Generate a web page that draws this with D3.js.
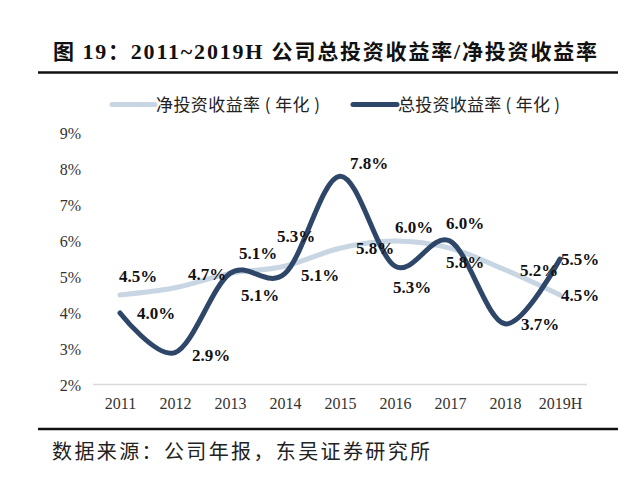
<!DOCTYPE html>
<html><head><meta charset="utf-8">
<script src="https://cdn.jsdelivr.net/npm/d3@7"></script>
<style>html,body{margin:0;padding:0;background:#fff;}</style>
</head><body>
<svg id="chart" width="640" height="488"></svg>
<script>
const years = ["2011","2012","2013","2014","2015","2016","2017","2018","2019H"];
const netYield = [4.5, 4.7, 5.1, 5.3, 5.8, 6.0, 5.8, 5.2, 4.5];
const totalYield = [4.0, 2.9, 5.1, 5.1, 7.8, 5.3, 6.0, 3.7, 5.5];
const yTicks = [2, 3, 4, 5, 6, 7, 8, 9];
const seriesNames = ["净投资收益率（年化）", "总投资收益率（年化）"];
const sourceText = "数据来源：公司年报，东吴证券研究所";

// label offsets (layout only)
const netOff = [[18,-19],[32,-14],[28,-20],[11,-30],[35,0],[19,-14],[15,14],[34,0],[20,0]];
const totOff = [[36,0],[36,2],[30,22],[35,2],[29,-13],[17,21],[15,-18],[35,0],[20,0]];

const svg = d3.select("#chart");
const cjk = "'Noto Sans CJK SC', sans-serif";
const serif = "'Liberation Serif', 'Times New Roman', serif";

const x = d3.scalePoint().domain(years).range([120, 560]);
const y = d3.scaleLinear().domain([2, 9]).range([385, 133]);

// title
const t = svg.append("text").attr("x", 53).attr("y", 59)
  .attr("font-size", 21).attr("font-weight", "bold").attr("fill", "#111")
  .attr("textLength", 544).attr("lengthAdjust", "spacing");
t.append("tspan").attr("font-family", cjk).text("图 ");
t.append("tspan").attr("font-family", serif).attr("font-size", 22).text("19");
t.append("tspan").attr("font-family", cjk).text("：");
t.append("tspan").attr("font-family", serif).attr("font-size", 22).text("2011~2019H ");
t.append("tspan").attr("font-family", cjk).text("公司总投资收益率");
t.append("tspan").attr("font-family", serif).attr("font-size", 22).text("/");
t.append("tspan").attr("font-family", cjk).text("净投资收益率");

svg.append("line").attr("x1", 38).attr("x2", 618).attr("y1", 72.5).attr("y2", 72.5)
  .attr("stroke", "#111").attr("stroke-width", 2.5);
svg.append("line").attr("x1", 38).attr("x2", 618).attr("y1", 429).attr("y2", 429)
  .attr("stroke", "#111").attr("stroke-width", 2.5);

// source
svg.append("text").attr("x", 52).attr("y", 459).attr("font-family", cjk)
  .attr("font-size", 20).attr("fill", "#222")
  .attr("textLength", 378).attr("lengthAdjust", "spacing").text(sourceText);

// legend
const colors = ["#c8d5e3", "#2e4668"];
const legend = [
  {x1: 112, x2: 155, tx: 156, tw: 164},
  {x1: 353, x2: 397, tx: 398, tw: 162}
];
legend.forEach((l, i) => {
  svg.append("line").attr("x1", l.x1).attr("x2", l.x2).attr("y1", 104.5).attr("y2", 104.5)
    .attr("stroke", colors[i]).attr("stroke-width", 5).attr("stroke-linecap", "round");
  svg.append("text").attr("x", l.tx).attr("y", 111).attr("font-family", cjk)
    .attr("font-size", 17).attr("fill", "#222")
    .attr("textLength", l.tw).attr("lengthAdjust", "spacing")
    .text(seriesNames[i].replace("（", " ( ").replace("）", " )"));
});

// y axis labels
const yAxis = d3.axisLeft(y).tickValues(yTicks).tickSize(0).tickPadding(0)
  .tickFormat(d => d + "%");
const ya = svg.append("g").attr("transform", "translate(81,0)").call(yAxis);
ya.select(".domain").remove();
ya.selectAll("text").attr("font-family", serif).attr("font-size", 16).attr("fill", "#333");

// x axis
const xAxis = d3.axisBottom(x).tickSize(0).tickPadding(13);
const xa = svg.append("g").attr("transform", "translate(0,384.5)").call(xAxis);
xa.select(".domain").attr("d", "M93,0H587").attr("stroke", "#d9d9d9").attr("stroke-width", 1.5);
xa.selectAll("text").attr("font-family", serif).attr("font-size", 16).attr("fill", "#333");

// lines
const line = d3.line().x((d, i) => x(years[i])).y(d => y(d)).curve(d3.curveCardinal.tension(0));
svg.append("path").datum(netYield).attr("d", line).attr("fill", "none")
  .attr("stroke", colors[0]).attr("stroke-width", 5).attr("stroke-linecap", "round");
svg.append("path").datum(totalYield).attr("d", line).attr("fill", "none")
  .attr("stroke", colors[1]).attr("stroke-width", 5).attr("stroke-linecap", "round");

// labels
function labels(data, off) {
  svg.append("g").selectAll("text").data(data).join("text")
    .attr("x", (d, i) => x(years[i]) + off[i][0])
    .attr("y", (d, i) => y(d) + off[i][1])
    .attr("dy", "0.35em").attr("text-anchor", "middle")
    .attr("font-family", serif).attr("font-weight", "bold").attr("font-size", 17)
    .attr("fill", "#111").text(d => d.toFixed(1) + "%");
}
labels(netYield, netOff);
labels(totalYield, totOff);
</script>
</body></html>
